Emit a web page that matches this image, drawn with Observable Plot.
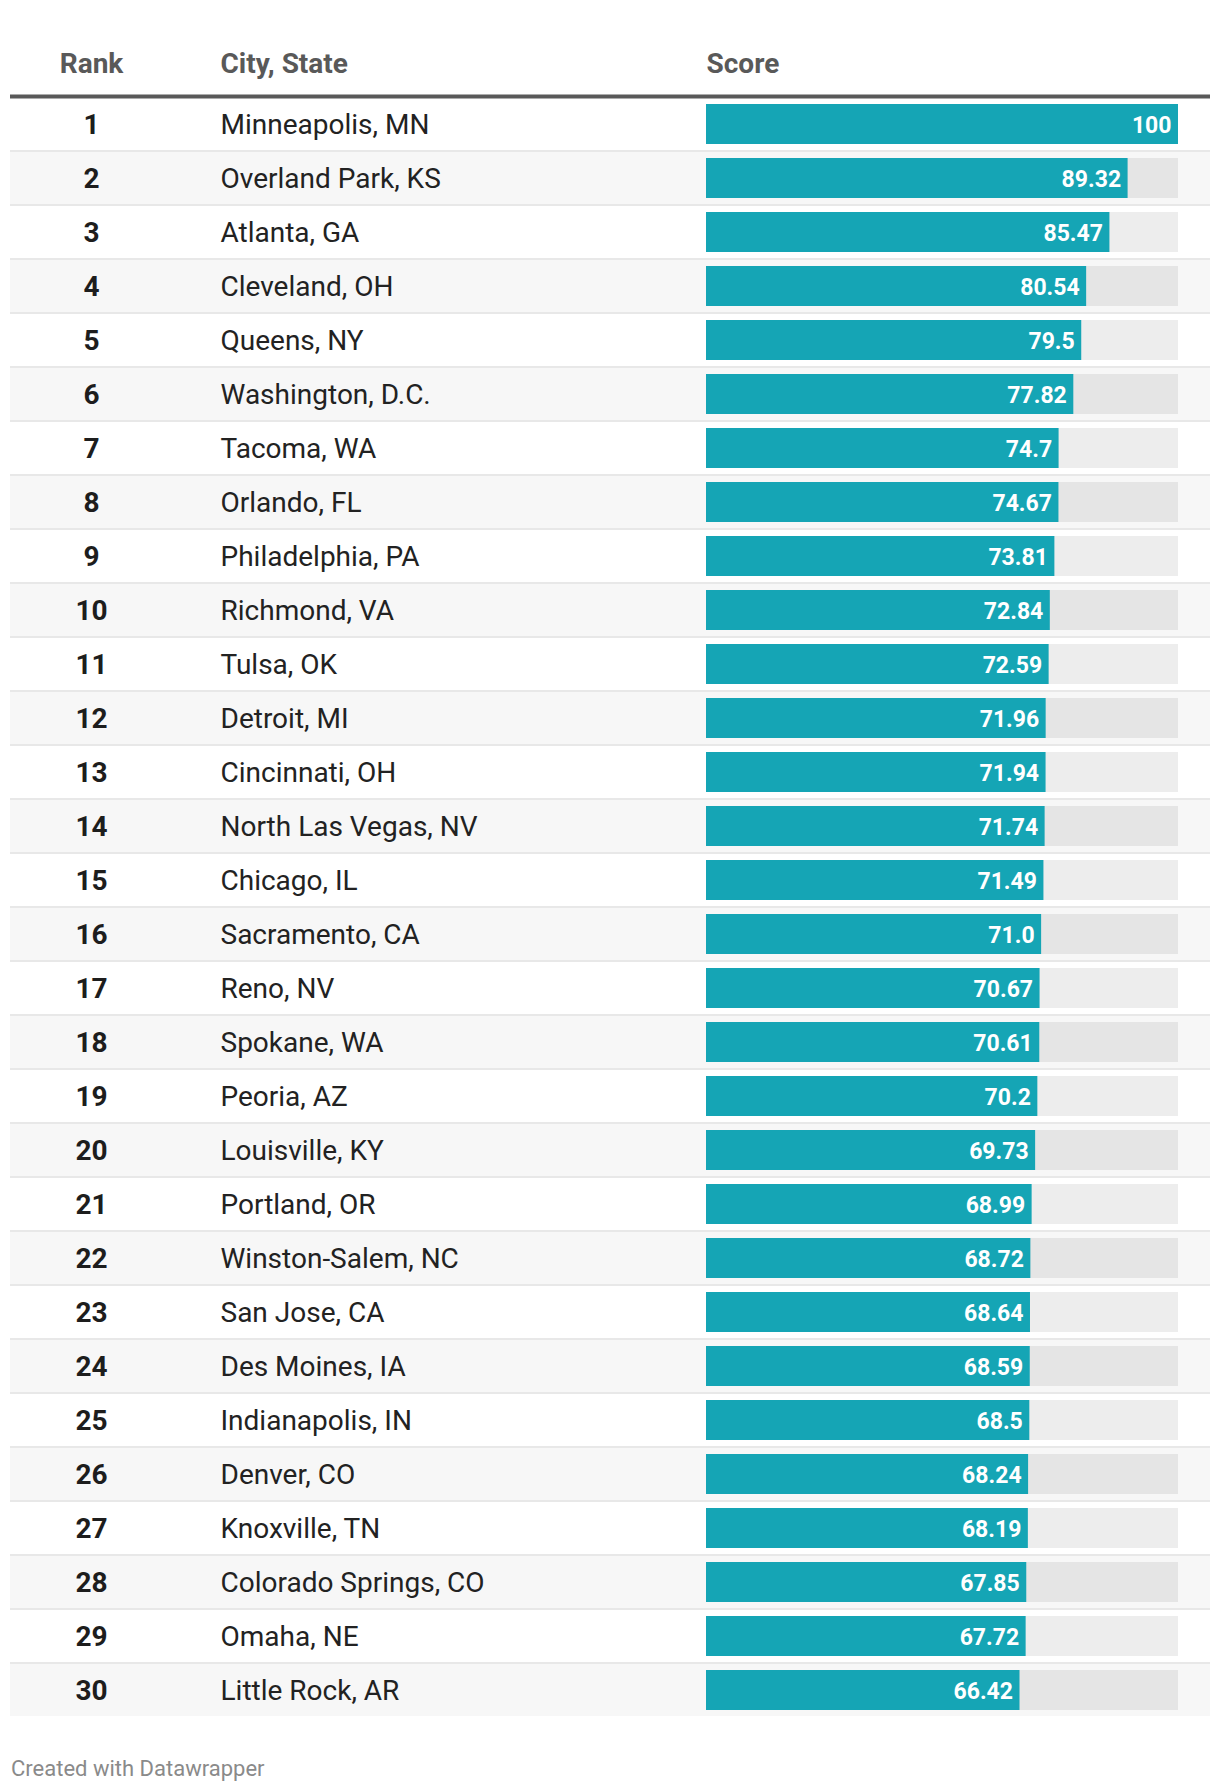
<!DOCTYPE html>
<html>
<head>
<meta charset="utf-8">
<script src="https://cdn.jsdelivr.net/npm/d3@7"></script>
<script src="https://cdn.jsdelivr.net/npm/@observablehq/plot@0.6"></script>
<style>
  html, body { margin: 0; padding: 0; background: #fff; }
  #chart svg { display: block; }
  #footer { font-family: Roboto, sans-serif; font-size: 22px; line-height: 26px; color: #8a8a8a; margin-top: 31px; padding-left: 11px; }
</style>
</head>
<body>
<div id="chart"></div>
<div id="footer">Created with Datawrapper</div>
<script>
const headers = ["Rank", "City, State", "Score"];
const ranks = d3.range(1, 31);
const cities = ["Minneapolis, MN","Overland Park, KS","Atlanta, GA","Cleveland, OH","Queens, NY","Washington, D.C.","Tacoma, WA","Orlando, FL","Philadelphia, PA","Richmond, VA","Tulsa, OK","Detroit, MI","Cincinnati, OH","North Las Vegas, NV","Chicago, IL","Sacramento, CA","Reno, NV","Spokane, WA","Peoria, AZ","Louisville, KY","Portland, OR","Winston-Salem, NC","San Jose, CA","Des Moines, IA","Indianapolis, IN","Denver, CO","Knoxville, TN","Colorado Springs, CO","Omaha, NE","Little Rock, AR"];
const scoreLabels = ["100","89.32","85.47","80.54","79.5","77.82","74.7","74.67","73.81","72.84","72.59","71.96","71.94","71.74","71.49","71.0","70.67","70.61","70.2","69.73","68.99","68.72","68.64","68.59","68.5","68.24","68.19","67.85","67.72","66.42"];
const scores = scoreLabels.map(Number);

const rows = ranks.map((r, i) => ({rank: r, city: cities[i], score: scores[i], label: scoreLabels[i]}));

const chart = Plot.plot({
  width: 1220,
  height: 1725,
  marginTop: 0,
  marginLeft: 10,
  marginRight: 10,
  marginBottom: 0,
  style: {fontFamily: "Roboto, sans-serif", background: "white"},
  x: {domain: [0, 100], range: [706, 1178], axis: null},
  y: {type: "band", domain: ranks, range: [98, 1718], padding: 0, round: false, axis: null},
  marks: [
    Plot.cell(rows, {y: "rank", fill: d => d.rank % 2 === 0 ? "#f7f7f7" : "#ffffff", insetBottom: 2}),
    Plot.cell(rows.filter(d => d.rank < 30), {y: "rank", insetTop: 52, fill: "#e8e8e8"}),
    Plot.tickY([1], {y: d => d, dy: -29, stroke: "#595959", strokeWidth: 4}),
    Plot.barX(rows, {x1: 0, x2: 100, y: "rank", insetTop: 6, insetBottom: 8, fill: "#000", fillOpacity: 0.07}),
    Plot.barX(rows, {x: "score", y: "rank", insetTop: 6, insetBottom: 8, fill: "#15a5b5"}),
    Plot.text(rows, {x: "score", y: "rank", text: "label", textAnchor: "end", dx: -7, fill: "white", fontWeight: "bold", fontSize: 23}),
    Plot.text(rows, {y: "rank", text: d => String(d.rank), frameAnchor: "left", dx: 81, textAnchor: "middle", fontWeight: "bold", fontSize: 28, fill: "#1d1d1d"}),
    Plot.text(rows, {y: "rank", text: "city", frameAnchor: "left", dx: 210, textAnchor: "start", fontSize: 28, fill: "#222222"}),
    Plot.text([headers[0]], {text: d => d, frameAnchor: "top-left", dx: 81, dy: 72, lineAnchor: "bottom", textAnchor: "middle", fontWeight: "bold", fontSize: 28, fill: "#595959"}),
    Plot.text([headers[1]], {text: d => d, frameAnchor: "top-left", dx: 210, dy: 72, lineAnchor: "bottom", textAnchor: "start", fontWeight: "bold", fontSize: 28, fill: "#595959"}),
    Plot.text([headers[2]], {x: () => 0, text: d => d, frameAnchor: "top", dy: 72, lineAnchor: "bottom", textAnchor: "start", fontWeight: "bold", fontSize: 28, fill: "#595959"})
  ]
});
document.getElementById("chart").appendChild(chart);
</script>
</body>
</html>
